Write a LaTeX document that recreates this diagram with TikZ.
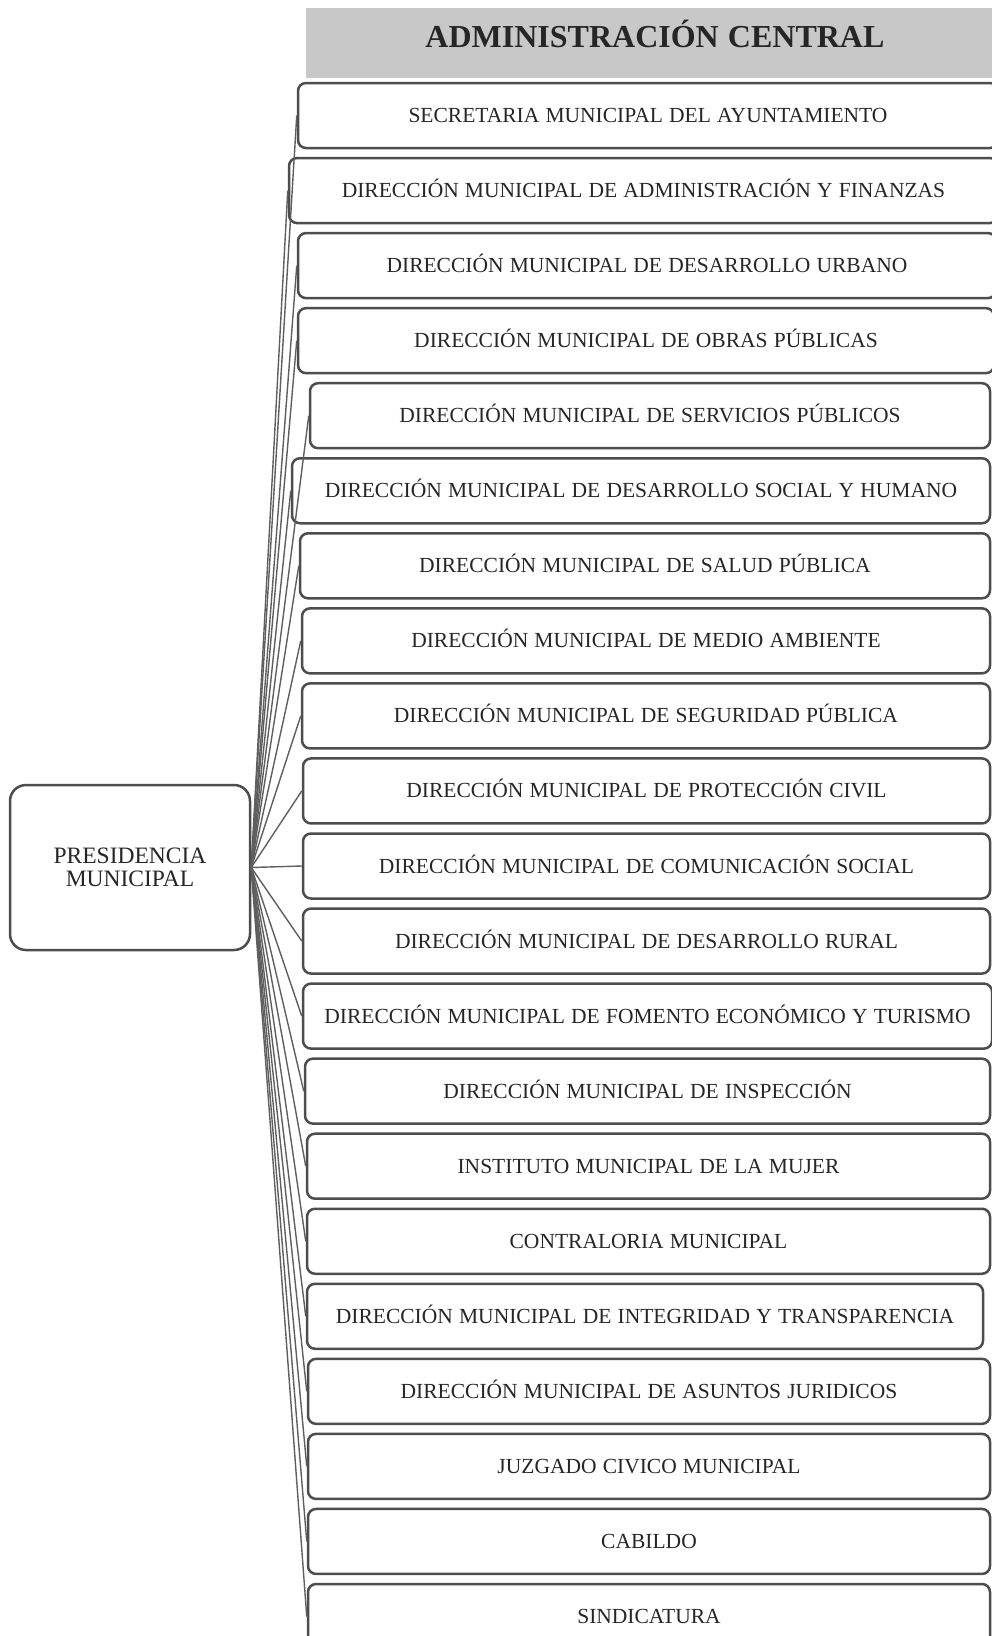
\documentclass[tikz,border=0pt]{standalone}
\usepackage{fontspec}
\setmainfont{Liberation Serif}[WordSpace=1.15]
\definecolor{borde}{HTML}{4D4D4D}
\definecolor{franja}{HTML}{C8C8C8}
\definecolor{texto}{HTML}{262626}
\begin{document}
\begin{tikzpicture}[x=1pt,y=-1pt,
  unidad/.style={draw=borde,line width=2.5pt,rounded corners=8pt,fill=white,minimum height=65pt,inner sep=0pt,text height=14pt,text depth=0pt,text=texto,font=\fontsize{21.5}{24}\selectfont},
  liga/.style={draw=borde!90,line width=1.4pt}]
\clip (0,0) rectangle (992,1636);
\fill[white] (0,0) rectangle (992,1636);

% Header
\fill[franja] (306,8) rectangle (992,78);
\node[anchor=base,font=\bfseries\fontsize{32}{36}\selectfont,text=texto] (titulo) at (655,47) {ADMINISTRACIÓN CENTRAL};

% Presidencia
\node[unidad,rounded corners=16pt,minimum width=240pt,minimum height=165pt,align=center,text height=,text depth=,font=\fontsize{23.5}{23}\selectfont] (pres) at (130,867.5) {PRESIDENCIA\\MUNICIPAL};

% Unidades
\foreach \l/\r/\t [count=\i] in {
  298/998/{SECRETARIA MUNICIPAL DEL AYUNTAMIENTO},
  289/998/{DIRECCIÓN MUNICIPAL DE ADMINISTRACIÓN Y FINANZAS},
  298/996/{DIRECCIÓN MUNICIPAL DE DESARROLLO URBANO},
  298/994/{DIRECCIÓN MUNICIPAL DE OBRAS PÚBLICAS},
  310/990/{DIRECCIÓN MUNICIPAL DE SERVICIOS PÚBLICOS},
  292/990/{DIRECCIÓN MUNICIPAL DE DESARROLLO SOCIAL Y HUMANO},
  300/990/{DIRECCIÓN MUNICIPAL DE SALUD PÚBLICA},
  302/990/{DIRECCIÓN MUNICIPAL DE MEDIO AMBIENTE},
  302/990/{DIRECCIÓN MUNICIPAL DE SEGURIDAD PÚBLICA},
  303/990/{DIRECCIÓN MUNICIPAL DE PROTECCIÓN CIVIL},
  303/990/{DIRECCIÓN MUNICIPAL DE COMUNICACIÓN SOCIAL},
  303/990/{DIRECCIÓN MUNICIPAL DE DESARROLLO RURAL},
  303/992/{DIRECCIÓN MUNICIPAL DE FOMENTO ECONÓMICO Y TURISMO},
  305/990/{DIRECCIÓN MUNICIPAL DE INSPECCIÓN},
  307/990/{INSTITUTO MUNICIPAL DE LA MUJER},
  307/990/{CONTRALORIA MUNICIPAL},
  307/983/{DIRECCIÓN MUNICIPAL DE INTEGRIDAD Y TRANSPARENCIA},
  308/990/{DIRECCIÓN MUNICIPAL DE ASUNTOS JURIDICOS},
  308/990/{JUZGADO CIVICO MUNICIPAL},
  308/990/{CABILDO},
  308/990/{SINDICATURA}}
  \node[unidad,minimum width={(\r-\l)*1pt}] (b\i) at ({(\l+\r)/2},{115.5+75.05*(\i-1)}) {\t};

% Conectores
\foreach \i in {1,...,21}
  \draw[liga] (pres.east) -- (b\i.west);
\end{tikzpicture}
\end{document}
